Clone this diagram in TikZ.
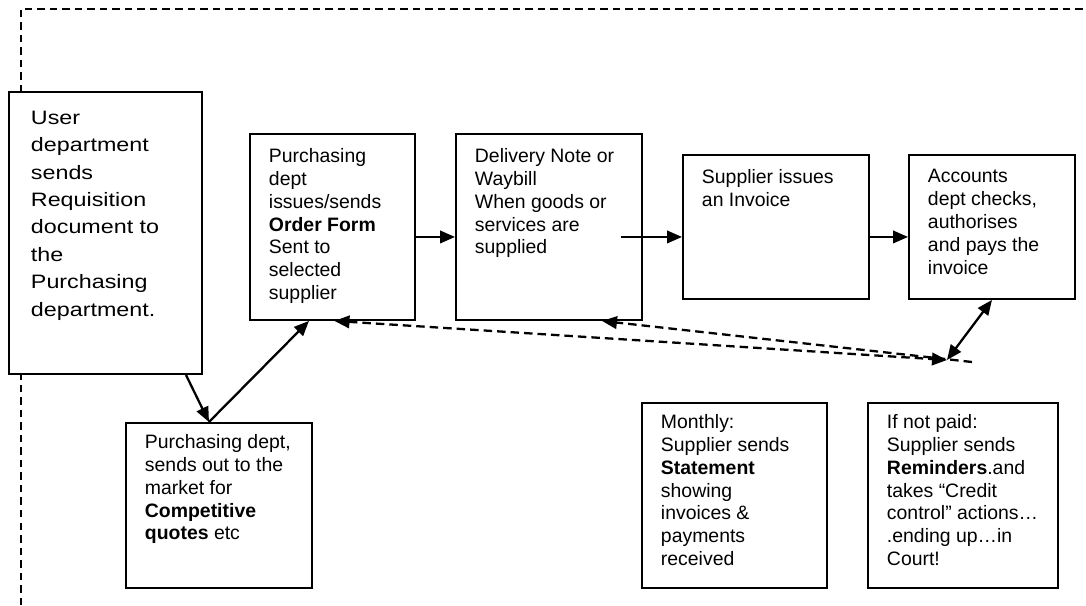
\documentclass[tikz,border=0pt]{standalone}
\usepackage{fontspec}
\setmainfont{Liberation Sans}
\newfontfamily\userfont[FakeStretch=1.2]{Liberation Sans}
\usepackage{tikz}
\usetikzlibrary{arrows.meta}
\newcommand{\blocktext}[3]{\parbox[t][#2][t]{#1}{\raggedright #3}}

\begin{document}
\begin{tikzpicture}[stage/.style={draw, fill=white, line width=1.1pt, anchor=north west, inner xsep=0.38cm, inner ysep=0.29cm, font=\fontsize{11.05}{13}\selectfont},
  flow/.style={line width=1.3pt, -{Triangle[length=0.3cm, width=0.25cm]}},
  twoway/.style={line width=1.3pt, {Triangle[length=0.3cm, width=0.25cm]}-{Triangle[length=0.3cm, width=0.25cm]}},
  back/.style={dash pattern=on 0.17cm off 0.1cm}]
  \useasboundingbox (0,0) rectangle (21.72, 12.1);
  \draw [line width=0.95pt, dash pattern=on 0.15cm off 0.1cm] (0.42, 0) -- (0.42, 11.92) -- (21.72, 11.92);
  \node (user) [stage, inner xsep=0.44cm, inner ysep=0.38cm, font=\userfont\fontsize{11.05}{15.6}\selectfont] at (0.16cm, 10.28cm) {\blocktext{2.98cm}{4.88cm}{User\\department\\sends\\Requisition\\document to\\the\\Purchasing\\department.}};
  \node (order) [stage] at (4.98cm, 9.44cm) {\blocktext{2.54cm}{3.14cm}{Purchasing\\dept\\issues/sends\\\textbf{Order Form}\\Sent to\\selected\\supplier}};
  \node (delivery) [stage] at (9.10cm, 9.44cm) {\blocktext{2.96cm}{3.14cm}{Delivery Note or\\Waybill\\When goods or\\services are\\supplied}};
  \node (invoice) [stage] at (13.64cm, 9.02cm) {\blocktext{2.96cm}{2.30cm}{Supplier issues\\an Invoice}};
  \node (accounts) [stage] at (18.16cm, 9.02cm) {\blocktext{2.56cm}{2.30cm}{Accounts\\dept checks,\\authorises\\and pays the\\invoice}};
  \node (quotes) [stage, inner ysep=0.23cm] at (2.50cm, 3.66cm) {\blocktext{2.96cm}{2.84cm}{Purchasing dept,\\sends out to the\\market for\\\textbf{Competitive}\\\textbf{quotes} etc}};
  \node (statement) [stage, inner ysep=0.23cm] at (12.82cm, 4.06cm) {\blocktext{2.94cm}{3.24cm}{Monthly:\\Supplier sends\\\textbf{Statement}\\showing\\invoices \&\\payments\\received}};
  \node (reminders) [stage, inner ysep=0.23cm] at (17.34cm, 4.06cm) {\blocktext{3.04cm}{3.24cm}{If not paid:\\Supplier sends\\\textbf{Reminders}.and\\takes “Credit\\control” actions…\\.ending up…in\\Court!}};
  \coordinate (pay) at (18.94cm, 4.9cm);
  \coordinate (stmt) at (19.44cm, 4.86cm);
  \draw [flow] ([xshift=1.61cm]user.south) -- ([xshift=-0.2cm]quotes.north);
  \draw [flow] ([xshift=-0.2cm]quotes.north) -- ([xshift=-0.47cm]order.south);
  \draw [flow] ([yshift=-0.2cm]order.east) -- ([yshift=-0.2cm]delivery.west);
  \draw [flow] ([xshift=-0.44cm, yshift=-0.2cm]delivery.east) -- ([yshift=-0.2cm]invoice.west);
  \draw [flow] ([yshift=-0.2cm]invoice.east) -- ([yshift=-0.2cm]accounts.west);
  \draw [twoway] (accounts.south) -- (pay);
  \draw [twoway, back] ([xshift=0.04cm]order.south) -- (pay);
  \draw [flow, back] (stmt) -- ([xshift=1.06cm]delivery.south);
\end{tikzpicture}
\end{document}
